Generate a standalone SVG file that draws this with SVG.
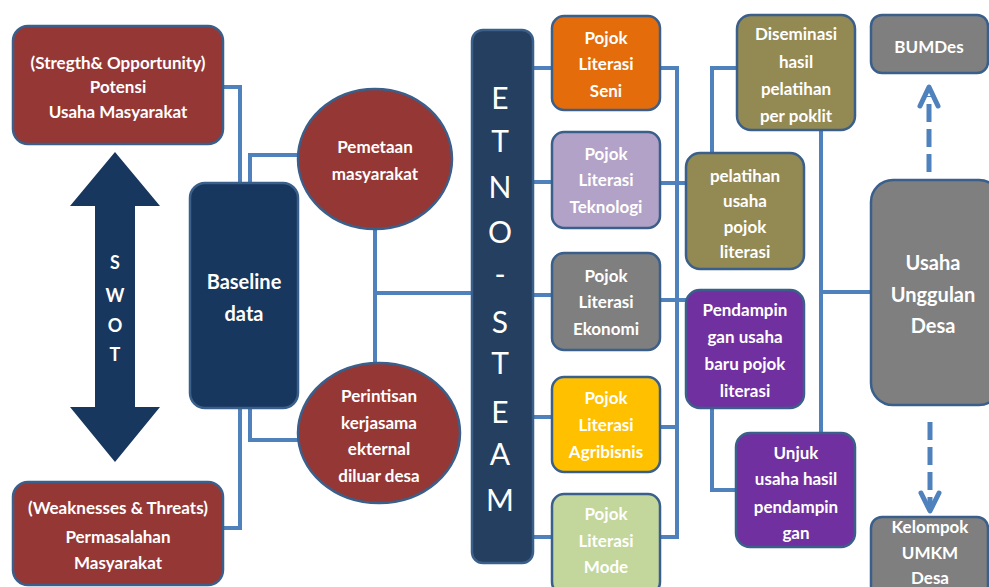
<svg xmlns="http://www.w3.org/2000/svg" width="989" height="587" viewBox="0 0 989 587">
<style>
.box{stroke:#3a5f8b;stroke-width:2.5}
.red{fill:#953735}
.navy{fill:#17375e}
.etno{fill:#243f60}
.olive{fill:#938953}
.purple{fill:#7030a0}
.gray{fill:#7f7f7f}
.t{font-family:Lato,"Liberation Sans",sans-serif;font-weight:bold;font-size:17px;fill:#ffffff;text-anchor:middle}
.big{font-size:20px}
.sw{font-size:18px}
.etxt{font-family:Lato,"Liberation Sans",sans-serif;font-weight:normal;font-size:30px;fill:#ffffff;text-anchor:middle}
.c{fill:none;stroke:#4f81bd;stroke-width:4}
.d{fill:none;stroke:#4f81bd;stroke-width:5;stroke-dasharray:18 7}
.ah{fill:none;stroke:#4f81bd;stroke-width:5;stroke-linecap:round;stroke-linejoin:round}
</style>
<rect width="989" height="587" fill="#ffffff"/>
<g id="connectors">
<path class="c" d="M223,87 H240 V183"/>
<path class="c" d="M250,183 V155 H300"/>
<path class="c" d="M240,408 V528 H223"/>
<path class="c" d="M250,408 V440 H299"/>
<path class="c" d="M375,229 V364"/>
<path class="c" d="M375,293 H472"/>
<path class="c" d="M533,68 H552 M533,182 H552 M533,295 H552 M533,417 H552 M533,537 H552"/>
<path class="c" d="M660,68 H677 V537 H660 M660,183 H686 M660,300 H686 M660,427 H677"/>
<path class="c" d="M712,153 V68 H737"/>
<path class="c" d="M712,408 V490 H736"/>
<path class="c" d="M821,130 V433"/>
<path class="c" d="M821,292 H871"/>
<path class="c" d="M510,89 H526"/>
<path class="d" d="M929,172 V96"/>
<path class="ah" d="M920,106 L929,87 L938,106"/>
<path class="d" d="M930,422 V508"/>
<path class="ah" d="M921,493 L930,511 L939,493"/>
</g>
<g id="swot">
<polygon class="navy" points="115,152 160,206 135,206 135,407 160,407 115,462 70,407 95,407 95,206 70,206"/>
<text class="t sw" x="115" y="269">S</text>
<text class="t sw" x="115" y="302">W</text>
<text class="t sw" x="115" y="332">O</text>
<text class="t sw" x="115" y="361">T</text>
</g>
<g id="potensi">
<rect class="box red" x="13" y="26" width="210" height="118" rx="15"/>
<text class="t" x="118" y="69">(Stregth&amp; Opportunity)</text>
<text class="t" x="118" y="93">Potensi</text>
<text class="t" x="118" y="118">Usaha Masyarakat</text>
</g>
<g id="permasalahan">
<rect class="box red" x="13" y="482" width="210" height="103" rx="15"/>
<text class="t" x="118" y="514">(Weaknesses &amp; Threats)</text>
<text class="t" x="118" y="543">Permasalahan</text>
<text class="t" x="118" y="569">Masyarakat</text>
</g>
<g id="baseline">
<rect class="box navy" x="190" y="183" width="108" height="225" rx="15"/>
<text class="t big" x="244" y="289">Baseline</text>
<text class="t big" x="244" y="321">data</text>
</g>
<g id="pemetaan">
<ellipse class="box red" cx="375" cy="159" rx="77" ry="70"/>
<text class="t" x="375" y="153">Pemetaan</text>
<text class="t" x="375" y="180">masyarakat</text>
</g>
<g id="perintisan">
<ellipse class="box red" cx="379" cy="433" rx="81" ry="70"/>
<text class="t" x="379" y="402">Perintisan</text>
<text class="t" x="379" y="429">kerjasama</text>
<text class="t" x="379" y="455">ekternal</text>
<text class="t" x="379" y="482">diluar desa</text>
</g>
<g id="etnosteam">
<rect class="box etno" x="472" y="30" width="61" height="533" rx="11"/>
<text class="etxt" x="500" y="109">E</text>
<text class="etxt" x="500" y="152">T</text>
<text class="etxt" x="500" y="198">N</text>
<text class="etxt" x="500" y="243">O</text>
<text class="etxt" x="500" y="285">-</text>
<text class="etxt" x="500" y="333">S</text>
<text class="etxt" x="500" y="374">T</text>
<text class="etxt" x="500" y="423">E</text>
<text class="etxt" x="500" y="465">A</text>
<text class="etxt" x="500" y="511">M</text>
</g>
<g id="pojok-seni">
<rect class="box" fill="#e46c0a" x="552" y="16" width="108" height="94" rx="12"/>
<text class="t" x="606" y="44">Pojok</text>
<text class="t" x="606" y="70">Literasi</text>
<text class="t" x="606" y="97">Seni</text>
</g>
<g id="pojok-teknologi">
<rect class="box" fill="#b3a2c7" x="552" y="132" width="108" height="96" rx="12"/>
<text class="t" x="606" y="160">Pojok</text>
<text class="t" x="606" y="186">Literasi</text>
<text class="t" x="606" y="213">Teknologi</text>
</g>
<g id="pojok-ekonomi">
<rect class="box gray" x="552" y="253" width="108" height="97" rx="12"/>
<text class="t" x="606" y="282">Pojok</text>
<text class="t" x="606" y="308">Literasi</text>
<text class="t" x="606" y="335">Ekonomi</text>
</g>
<g id="pojok-agribisnis">
<rect class="box" fill="#ffc000" x="552" y="377" width="108" height="95" rx="12"/>
<text class="t" x="606" y="404">Pojok</text>
<text class="t" x="606" y="431">Literasi</text>
<text class="t" x="606" y="458">Agribisnis</text>
</g>
<g id="pojok-mode">
<rect class="box" fill="#c3d69b" x="552" y="494" width="108" height="100" rx="12"/>
<text class="t" x="606" y="520">Pojok</text>
<text class="t" x="606" y="547">Literasi</text>
<text class="t" x="606" y="573">Mode</text>
</g>
<g id="diseminasi">
<rect class="box olive" x="737" y="15" width="118" height="115" rx="14"/>
<text class="t" x="796" y="40">Diseminasi</text>
<text class="t" x="796" y="68">hasil</text>
<text class="t" x="796" y="95">pelatihan</text>
<text class="t" x="796" y="122">per poklit</text>
</g>
<g id="pelatihan">
<rect class="box olive" x="686" y="153" width="118" height="116" rx="14"/>
<text class="t" x="745" y="182">pelatihan</text>
<text class="t" x="745" y="207">usaha</text>
<text class="t" x="745" y="233">pojok</text>
<text class="t" x="745" y="258">literasi</text>
</g>
<g id="pendampingan">
<rect class="box purple" x="686" y="290" width="118" height="118" rx="14"/>
<text class="t" x="745" y="316">Pendampin</text>
<text class="t" x="745" y="343">gan usaha</text>
<text class="t" x="745" y="370">baru pojok</text>
<text class="t" x="745" y="397">literasi</text>
</g>
<g id="unjuk">
<rect class="box purple" x="736" y="433" width="119" height="114" rx="14"/>
<text class="t" x="796" y="459">Unjuk</text>
<text class="t" x="796" y="485">usaha hasil</text>
<text class="t" x="796" y="513">pendampin</text>
<text class="t" x="796" y="539">gan</text>
</g>
<g id="bumdes">
<rect class="box gray" x="871" y="15" width="117" height="58" rx="11"/>
<text class="t" x="929" y="53">BUMDes</text>
</g>
<g id="usaha-unggulan">
<rect class="box gray" x="871" y="180" width="130" height="225" rx="22"/>
<text class="t big" x="933" y="270">Usaha</text>
<text class="t big" x="933" y="302">Unggulan</text>
<text class="t big" x="933" y="333">Desa</text>
</g>
<g id="kelompok">
<rect class="box gray" x="871" y="517" width="117" height="80" rx="11"/>
<text class="t" x="930" y="533">Kelompok</text>
<text class="t" x="930" y="559">UMKM</text>
<text class="t" x="930" y="584">Desa</text>
</g>
</svg>
